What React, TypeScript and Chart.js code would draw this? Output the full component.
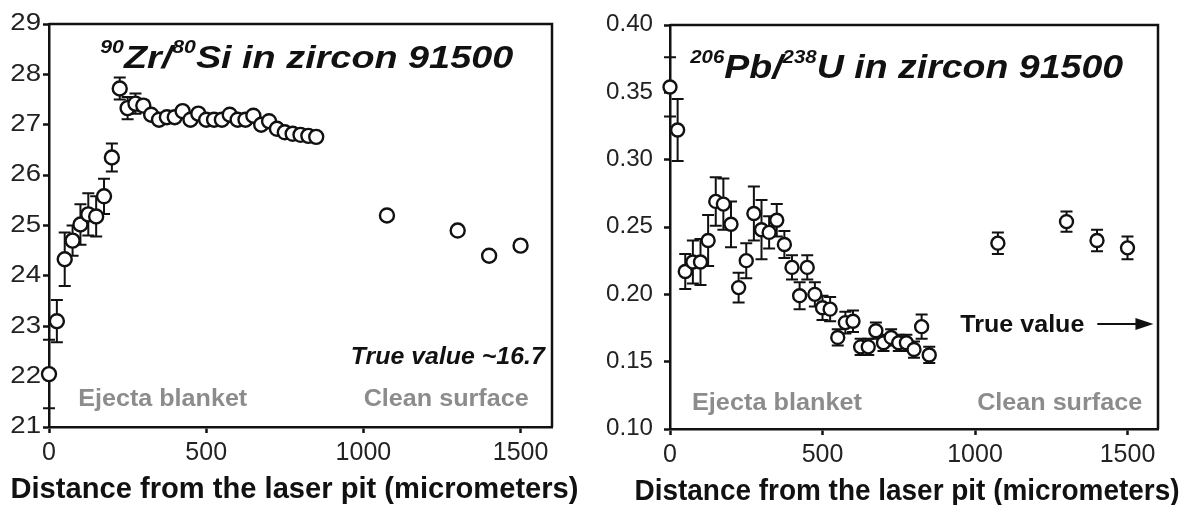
import React, { useEffect, useRef } from "react";
import { Chart, registerables } from "chart.js";

Chart.register(...registerables);

// ---------- data ----------
const distance = [0, 25, 50, 75, 100, 125, 150, 175, 200, 225, 250, 275, 300, 325, 350, 375, 400, 425, 450, 475, 500, 525, 550, 575, 600, 625, 650, 675, 700, 725, 750, 775, 800, 825, 850];
const zrSi = [22.05, 23.1, 24.33, 24.7, 25.02, 25.22, 25.18, 25.58, 26.35, 27.72, 27.33, 27.42, 27.38, 27.2, 27.1, 27.15, 27.15, 27.27, 27.1, 27.22, 27.1, 27.1, 27.1, 27.2, 27.1, 27.1, 27.18, 27.0, 27.07, 26.92, 26.85, 26.82, 26.8, 26.78, 26.76];
const zrSiErr = [0.68, 0.42, 0.53, 0.3, 0.4, 0.42, 0.4, 0.35, 0.28, 0.22, 0.22, 0.2, 0.1, 0.08, 0.08, 0.08, 0.08, 0.08, 0.08, 0.08, 0.08, 0.08, 0.08, 0.08, 0.08, 0.08, 0.08, 0.08, 0.08, 0.08, 0.08, 0.08, 0.08, 0.08, 0.08];
const cleanDistance = [1075, 1300, 1400, 1500];
const zrSiClean = [25.2, 24.9, 24.4, 24.6];
const zrSiCleanErr = [0.07, 0.06, 0.06, 0.06];

const pbU = [0.354, 0.322, 0.217, 0.224, 0.224, 0.24, 0.269, 0.267, 0.252, 0.205, 0.225, 0.26, 0.248, 0.246, 0.255, 0.237, 0.22, 0.199, 0.22, 0.2, 0.19, 0.189, 0.168, 0.179, 0.18, 0.161, 0.161, 0.173, 0.164, 0.168, 0.164, 0.164, 0.159, 0.176, 0.155];
const pbUErr = [0.022, 0.023, 0.013, 0.016, 0.017, 0.019, 0.018, 0.019, 0.017, 0.011, 0.013, 0.02, 0.022, 0.012, 0.012, 0.01, 0.009, 0.01, 0.009, 0.009, 0.009, 0.009, 0.006, 0.008, 0.008, 0.006, 0.006, 0.006, 0.006, 0.006, 0.006, 0.006, 0.006, 0.009, 0.006];
const pbUClean = [0.238, 0.254, 0.24, 0.2345];
const pbUCleanErr = [0.008, 0.0075, 0.008, 0.0085];

const xTicks = [0, 500, 1000, 1500];
const zrTicks = [21, 22, 23, 24, 25, 26, 27, 28, 29];
const pbTicks = [0.1, 0.15, 0.2, 0.25, 0.3, 0.35, 0.4];

const xTitle = "Distance from the laser pit (micrometers)";
const FONT = '"Liberation Sans", Arial, Helvetica, sans-serif';
const GRAY = "#8c8c8c";
const INK = "#111";

// ---------- text helpers ----------
type TextOpts = {
  size: number;
  bold?: boolean;
  italic?: boolean;
  color?: string;
  align?: "left" | "right" | "center";
  sx?: number;
  width?: number;
};

function drawText(ctx: CanvasRenderingContext2D, text: string, x: number, y: number, o: TextOpts) {
  ctx.save();
  ctx.font = `${o.italic ? "italic " : ""}${o.bold ? "bold " : ""}${o.size}px ${FONT}`;
  const natural = ctx.measureText(text).width;
  const sx = o.width ? o.width / natural : o.sx ?? 1;
  const w = natural * sx;
  const left = o.align === "right" ? x - w : o.align === "center" ? x - w / 2 : x;
  ctx.translate(left, y);
  ctx.scale(sx, 1);
  ctx.fillStyle = o.color ?? INK;
  ctx.textAlign = "left";
  ctx.textBaseline = "middle";
  ctx.fillText(text, 0, 0);
  ctx.restore();
}

type Seg = { t: string; sup?: boolean };
function drawTitle(ctx: CanvasRenderingContext2D, segs: Seg[], x: number, baseline: number, size: number, supSize: number, raise: number, width: number) {
  ctx.save();
  const fm = `italic bold ${size}px ${FONT}`;
  const fs = `italic bold ${supSize}px ${FONT}`;
  let natural = 0;
  segs.forEach((s) => {
    ctx.font = s.sup ? fs : fm;
    natural += ctx.measureText(s.t).width;
  });
  const sx = width / natural;
  ctx.translate(x, baseline);
  ctx.scale(sx, 1);
  ctx.fillStyle = INK;
  ctx.textAlign = "left";
  ctx.textBaseline = "alphabetic";
  let cx = 0;
  segs.forEach((s) => {
    ctx.font = s.sup ? fs : fm;
    ctx.fillText(s.t, cx, s.sup ? -raise : 0);
    cx += ctx.measureText(s.t).width;
  });
  ctx.restore();
}

// ---------- panel ----------
type Panel = {
  x: number[];
  y: number[];
  err: number[];
  cleanX: number[];
  cleanY: number[];
  cleanErr: number[];
  yMin: number;
  yMax: number;
  yTicks: number[];
  yFmt: (v: number) => string;
  yLabelSize: number;
  yLabelSx: number;
  yLabelGap: number;
  radius: number;
  yWidth: number;
  padTop: number;
  padRight: number;
  xHeight: number;
  titleWidth: number;
  titleShift: number;
  annotate: (ctx: CanvasRenderingContext2D, xs: any, ys: any) => void;
};

function buildChart(canvas: HTMLCanvasElement, p: Panel) {
  const errs = [p.err, p.cleanErr];
  const errorBars = {
    id: "errorBars",
    beforeDatasetsDraw(chart: any) {
      const { ctx } = chart;
      const xs = chart.scales.x;
      const ys = chart.scales.y;
      ctx.save();
      ctx.strokeStyle = INK;
      ctx.lineWidth = 2;
      chart.data.datasets.forEach((ds: any, di: number) => {
        ds.data.forEach((pt: any, i: number) => {
          const e = errs[di][i];
          const px = xs.getPixelForValue(pt.x);
          const top = ys.getPixelForValue(pt.y + e);
          const bot = ys.getPixelForValue(pt.y - e);
          const cap = 6;
          ctx.beginPath();
          ctx.moveTo(px, top);
          ctx.lineTo(px, bot);
          ctx.moveTo(px - cap, top);
          ctx.lineTo(px + cap, top);
          ctx.moveTo(px - cap, bot);
          ctx.lineTo(px + cap, bot);
          ctx.stroke();
        });
      });
      ctx.restore();
    },
  };
  const decor = {
    id: "decor",
    afterDraw(chart: any) {
      const { ctx, chartArea } = chart;
      const xs = chart.scales.x;
      const ys = chart.scales.y;
      // frame top/right
      ctx.save();
      ctx.strokeStyle = INK;
      ctx.lineWidth = 2.5;
      ctx.beginPath();
      ctx.moveTo(chartArea.left, chartArea.top);
      ctx.lineTo(chartArea.right, chartArea.top);
      ctx.lineTo(chartArea.right, chartArea.bottom);
      ctx.stroke();
      ctx.restore();
      // tick labels
      xs.ticks.forEach((t: any) => {
        drawText(ctx, String(t.value), xs.getPixelForValue(t.value), chartArea.bottom + 26, { size: 25, color: "#222", align: "center" });
      });
      ys.ticks.forEach((t: any) => {
        drawText(ctx, p.yFmt(t.value), chartArea.left - p.yLabelGap, ys.getPixelForValue(t.value), {
          size: p.yLabelSize,
          color: "#222",
          align: "right",
          sx: p.yLabelSx,
        });
      });
      // axis title
      drawText(ctx, xTitle, (chartArea.left + chartArea.right) / 2 + p.titleShift, chartArea.bottom + 63, {
        size: 29,
        bold: true,
        color: INK,
        align: "center",
        width: p.titleWidth,
      });
      p.annotate(ctx, xs, ys);
    },
  };

  const pointStyle = {
    pointRadius: p.radius,
    pointHoverRadius: p.radius,
    pointBackgroundColor: "#fff",
    pointBorderColor: INK,
    pointBorderWidth: 2.4,
    showLine: false,
    clip: false as any,
  };

  return new Chart(canvas, {
    type: "scatter",
    data: {
      datasets: [
        { label: "Ejecta blanket", data: p.x.map((x, i) => ({ x, y: p.y[i] })), ...pointStyle },
        { label: "Clean surface", data: p.cleanX.map((x, i) => ({ x, y: p.cleanY[i] })), ...pointStyle },
      ],
    },
    options: {
      responsive: false,
      animation: false,
      events: [],
      layout: { padding: { left: 0, top: p.padTop, right: p.padRight, bottom: 0 } },
      plugins: { legend: { display: false }, tooltip: { enabled: false } },
      scales: {
        x: {
          type: "linear",
          min: 0,
          max: 1600,
          afterBuildTicks: (s: any) => {
            s.ticks = xTicks.map((v) => ({ value: v }));
          },
          afterFit: (s: any) => {
            s.height = p.xHeight;
          },
          ticks: { display: false },
          grid: { drawOnChartArea: false, drawTicks: true, tickLength: 6, tickWidth: 2.5, tickColor: INK, color: INK },
          border: { display: true, color: INK, width: 2.5 },
        },
        y: {
          type: "linear",
          min: p.yMin,
          max: p.yMax,
          afterBuildTicks: (s: any) => {
            s.ticks = p.yTicks.map((v) => ({ value: v }));
          },
          afterFit: (s: any) => {
            s.width = p.yWidth;
          },
          ticks: { display: false },
          grid: { drawOnChartArea: false, drawTicks: true, tickLength: 6, tickWidth: 2.5, tickColor: INK, color: INK },
          border: { display: true, color: INK, width: 2.5 },
        },
      },
    },
    plugins: [errorBars, decor],
  } as any);
}

const leftPanel: Panel = {
  x: distance,
  y: zrSi,
  err: zrSiErr,
  cleanX: cleanDistance,
  cleanY: zrSiClean,
  cleanErr: zrSiCleanErr,
  yMin: 21,
  yMax: 29,
  yTicks: zrTicks,
  yFmt: (v) => String(v),
  yLabelSize: 23,
  yLabelSx: 1.2,
  yLabelGap: 8,
  radius: 7,
  yWidth: 49,
  padTop: 24,
  padRight: 48,
  xHeight: 78,
  titleWidth: 568,
  titleShift: -6,
  annotate: (ctx, xs, ys) => {
    drawTitle(
      ctx,
      [{ t: "90", sup: true }, { t: "Zr/" }, { t: "80", sup: true }, { t: "Si in zircon 91500" }],
      xs.getPixelForValue(163),
      ys.getPixelForValue(28.12),
      32,
      18,
      15,
      413
    );
    drawText(ctx, "True value ~16.7", xs.getPixelForValue(1577), ys.getPixelForValue(22.37), { size: 23, bold: true, italic: true, align: "right", width: 194 });
    drawText(ctx, "Clean surface", xs.getPixelForValue(1001), ys.getPixelForValue(21.54), { size: 23, bold: true, color: GRAY, width: 165 });
    drawText(ctx, "Ejecta blanket", xs.getPixelForValue(93), ys.getPixelForValue(21.54), { size: 23, bold: true, color: GRAY, width: 169 });
  },
};

const rightPanel: Panel = {
  x: distance,
  y: pbU,
  err: pbUErr,
  cleanX: cleanDistance,
  cleanY: pbUClean,
  cleanErr: pbUCleanErr,
  yMin: 0.1,
  yMax: 0.4,
  yTicks: pbTicks,
  yFmt: (v) => v.toFixed(2),
  yLabelSize: 23,
  yLabelSx: 1.05,
  yLabelGap: 17,
  radius: 6.5,
  yWidth: 70,
  padTop: 25,
  padRight: 44,
  xHeight: 76,
  titleWidth: 545,
  titleShift: -7,
  annotate: (ctx, xs, ys) => {
    drawTitle(
      ctx,
      [{ t: "206", sup: true }, { t: "Pb/" }, { t: "238", sup: true }, { t: "U in zircon 91500" }],
      xs.getPixelForValue(66),
      ys.getPixelForValue(0.3608),
      33,
      18,
      15,
      433
    );
    drawText(ctx, "Ejecta blanket", xs.getPixelForValue(72), ys.getPixelForValue(0.1186), { size: 23, bold: true, color: GRAY, width: 170 });
    drawText(ctx, "Clean surface", xs.getPixelForValue(1007), ys.getPixelForValue(0.119), { size: 23, bold: true, color: GRAY, width: 165 });
    drawText(ctx, "True value", xs.getPixelForValue(952), ys.getPixelForValue(0.177), { size: 23, bold: true, width: 124 });
    // arrow
    const ay = ys.getPixelForValue(0.178);
    const x0 = xs.getPixelForValue(1401);
    const x1 = xs.getPixelForValue(1585);
    ctx.save();
    ctx.strokeStyle = INK;
    ctx.fillStyle = INK;
    ctx.lineWidth = 2;
    ctx.beginPath();
    ctx.moveTo(x0, ay);
    ctx.lineTo(x1 - 14, ay);
    ctx.stroke();
    ctx.beginPath();
    ctx.moveTo(x1, ay);
    ctx.lineTo(x1 - 18, ay - 6);
    ctx.lineTo(x1 - 18, ay + 6);
    ctx.closePath();
    ctx.fill();
    ctx.restore();
  },
};

function PanelCanvas({ panel, left, width }: { panel: Panel; left: number; width: number }) {
  const ref = useRef<HTMLCanvasElement | null>(null);
  useEffect(() => {
    if (!ref.current) return;
    const chart = buildChart(ref.current, panel);
    return () => chart.destroy();
  }, [panel]);
  return (
    <canvas
      ref={ref}
      width={width}
      height={505}
      style={{ position: "absolute", left, top: 0, width, height: 505, display: "block" }}
    />
  );
}

export default function App() {
  return (
    <div style={{ position: "absolute", left: 0, top: 0, width: 1202, height: 505, background: "#fff", overflow: "hidden" }}>
      <PanelCanvas panel={leftPanel} left={0} width={600} />
      <PanelCanvas panel={rightPanel} left={600} width={602} />
    </div>
  );
}
